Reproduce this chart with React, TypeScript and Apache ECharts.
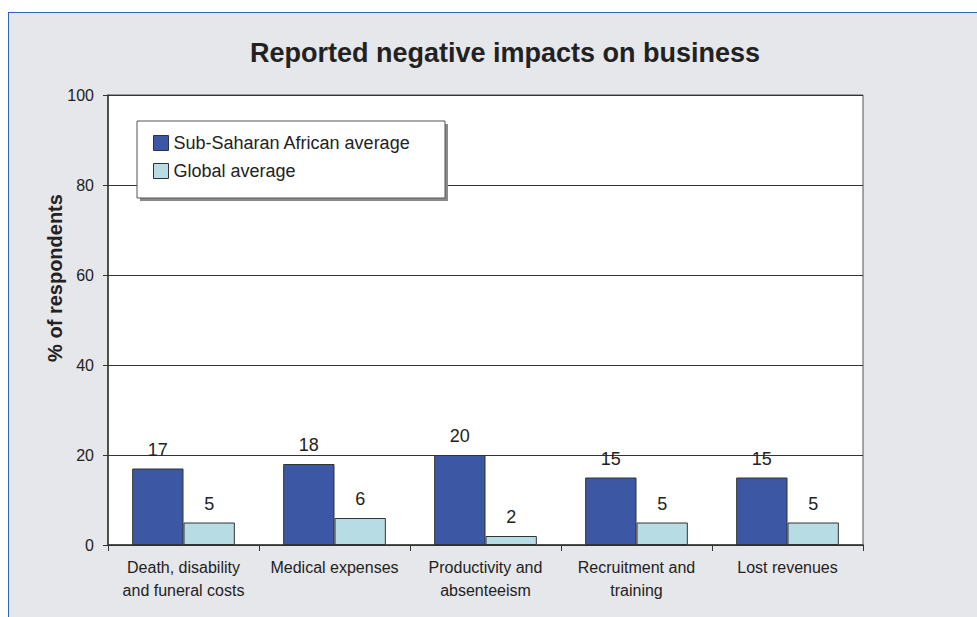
import React, { useEffect, useRef } from "react";
import * as echarts from "echarts";

const categories = [
  "Death, disability\nand funeral costs",
  "Medical expenses",
  "Productivity and\nabsenteeism",
  "Recruitment and\ntraining",
  "Lost revenues",
];
const subSaharan = [17, 18, 20, 15, 15];
const globalAvg = [5, 6, 2, 5, 5];
const seriesNames = ["Sub-Saharan African average", "Global average"];
const titleText = "Reported negative impacts on business";
const yAxisName = "% of respondents";

const FONT = "Arial, 'Liberation Sans', Helvetica, sans-serif";

export default function App() {
  const ref = useRef<HTMLDivElement>(null);
  useEffect(() => {
    if (!ref.current) return;
    const chart = echarts.init(ref.current, undefined, { renderer: "svg" });
    const labelStyle = {
      show: true,
      position: "top" as const,
      distance: 10,
      fontSize: 18,
      color: "#222",
      fontFamily: FONT,
    };
    chart.setOption({
      animation: false,
      backgroundColor: "transparent",
      title: {
        text: titleText,
        left: 500,
        textAlign: "center",
        top: 34,
        textStyle: { fontSize: 27, fontWeight: "bold", color: "#222", fontFamily: FONT },
      },
      grid: {
        left: 108,
        top: 95,
        width: 755,
        height: 450,
        show: true,
        backgroundColor: "#ffffff",
        borderColor: "#555",
        borderWidth: 1,
      },
      legend: {
        orient: "vertical",
        left: 148,
        top: 129,
        itemWidth: 15,
        itemHeight: 15,
        itemGap: 10,
        icon: "rect",
        z: 20,
        data: seriesNames,
        itemStyle: { borderColor: "#333", borderWidth: 1 },
        textStyle: { fontSize: 18, color: "#222", fontFamily: FONT },
      },
      xAxis: {
        type: "category",
        data: categories,
        axisLine: { show: true, lineStyle: { color: "#333", width: 1.5 } },
        axisTick: { show: true, length: 6, alignWithLabel: false, lineStyle: { color: "#333" } },
        axisLabel: { fontSize: 16, color: "#222", lineHeight: 23, margin: 11, fontFamily: FONT, interval: 0 },
        splitLine: { show: false },
      },
      yAxis: {
        type: "value",
        min: 0,
        max: 100,
        interval: 20,
        axisLine: { show: true, lineStyle: { color: "#333", width: 1.5 } },
        axisTick: { show: true, length: 5, lineStyle: { color: "#333" } },
        axisLabel: { fontSize: 16, color: "#222", margin: 14, fontFamily: FONT },
        splitLine: { show: true, lineStyle: { color: "#333", width: 1 } },
      },
      graphic: [
        {
          type: "rect",
          z: 10,
          shape: { x: 140, y: 124, width: 308, height: 77 },
          style: { fill: "#8a8a8a" },
        },
        {
          type: "rect",
          z: 11,
          shape: { x: 137, y: 121, width: 308, height: 77 },
          style: { fill: "#ffffff", stroke: "#555", lineWidth: 1 },
        },
        {
          type: "text",
          z: 11,
          x: 55,
          y: 278,
          rotation: Math.PI / 2,
          style: {
            text: yAxisName,
            fontSize: 20,
            fontWeight: "bold",
            fill: "#222",
            fontFamily: FONT,
            align: "center",
            verticalAlign: "middle",
          },
        },
      ],
      series: [
        {
          name: seriesNames[0],
          type: "bar",
          data: subSaharan,
          barGap: "0%",
          barCategoryGap: "32%",
          itemStyle: { color: "#3c58a4", borderColor: "#333", borderWidth: 1 },
          label: labelStyle,
        },
        {
          name: seriesNames[1],
          type: "bar",
          data: globalAvg,
          itemStyle: { color: "#b8dce4", borderColor: "#333", borderWidth: 1 },
          label: labelStyle,
        },
      ],
    });
    return () => chart.dispose();
  }, []);

  return (
    <div style={{ position: "fixed", left: 0, top: 0, width: 977, height: 617, background: "#fff" }}>
      <div
        style={{
          position: "absolute",
          left: 8,
          top: 12,
          right: 0,
          bottom: 0,
          background: "#e6e7eb",
          borderTop: "1.5px solid #2a6ab4",
          borderLeft: "1.5px solid #2a6ab4",
        }}
      />
      <div ref={ref} style={{ position: "absolute", left: 0, top: 0, width: 977, height: 617 }} />
    </div>
  );
}
